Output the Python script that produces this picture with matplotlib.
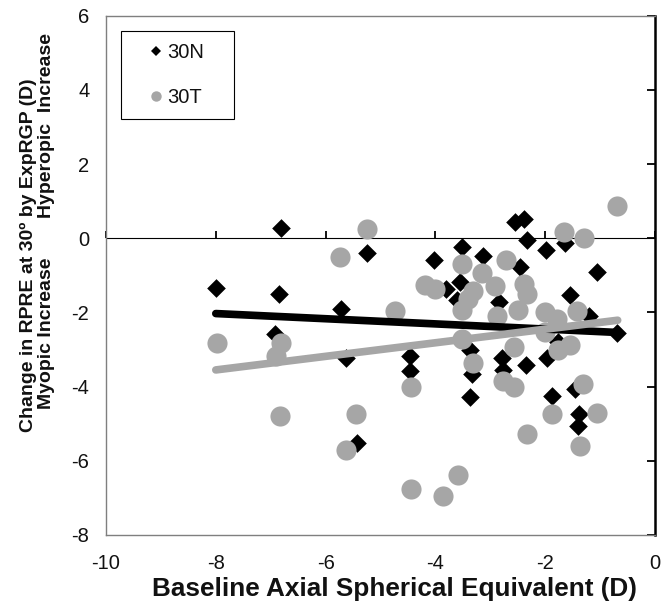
import matplotlib
matplotlib.use("Agg")
import matplotlib.pyplot as plt
from matplotlib.lines import Line2D

plt.rcParams['font.family'] = ['Liberation Sans', 'DejaVu Sans']

# 30N (black diamonds)
n_x = [-8.00, -6.84, -6.82, -6.92, -5.72, -5.63, -5.43, -5.25, -4.02, -4.46, -4.46, -3.81, -3.56,
       -3.61, -3.52, -3.14, -3.37, -3.34, -3.37, -2.85, -2.78, -2.76, -2.55, -2.39, -2.34, -2.46,
       -2.35, -1.99, -1.97, -1.88, -1.76, -1.64, -1.54, -1.46, -1.38, -1.41, -1.21, -1.06, -0.69]
n_y = [-1.35, -1.51, 0.27, -2.57, -1.90, -3.22, -5.52, -0.39, -0.59, -3.18, -3.58, -1.38, -1.18,
       -1.67, -0.23, -0.47, -3.02, -3.65, -4.28, -1.72, -3.22, -3.56, 0.44, 0.51, -0.04, -0.77,
       -3.43, -0.33, -3.22, -4.26, -2.80, -0.12, -1.54, -4.07, -4.73, -5.07, -2.10, -0.91, -2.56]

# 30T (gray circles)
t_x = [-7.98, -6.82, -6.90, -6.83, -5.73, -5.25, -5.45, -5.63, -4.74, -4.19, -4.01, -4.45, -4.45,
       -3.87, -3.58, -3.52, -3.15, -3.31, -3.40, -3.52, -3.52, -3.31, -2.91, -2.72, -2.88, -2.57,
       -2.76, -2.57, -2.38, -2.34, -2.49, -2.34, -2.00, -2.00, -1.78, -1.76, -1.54, -1.42, -1.65,
       -1.29, -0.69, -1.88, -1.31, -1.06, -1.37]
t_y = [-2.82, -2.83, -3.18, -4.80, -0.50, 0.26, -4.73, -5.70, -1.97, -1.27, -1.36, -4.02, -6.75,
       -6.95, -6.37, -0.70, -0.94, -1.42, -1.65, -1.94, -2.72, -3.37, -1.30, -0.59, -2.10, -2.94,
       -3.86, -4.00, -1.22, -1.50, -1.94, -5.29, -1.98, -2.52, -2.17, -3.00, -2.89, -1.96, 0.16,
       0.00, 0.86, -4.73, -3.93, -4.71, -5.59]

# linear trend lines (endpoints)
trend_x = [-8.0, -0.68]
n_trend_y = [-2.03, -2.54]
t_trend_y = [-3.55, -2.21]

x_ticks = [-10, -8, -6, -4, -2, 0]
y_ticks = [-8, -6, -4, -2, 0, 2, 4, 6]

GRAY = '#a6a6a6'
TXT = '#111111'

fig = plt.figure(figsize=(6.61, 6.03), dpi=100)
ax = fig.add_axes([106/661, 1-535/603, 549/661, (535-15.7)/603])

ax.scatter(n_x, n_y, marker='D', s=9.5**2, color='black', linewidths=0, zorder=2)
ax.scatter(t_x, t_y, marker='o', s=14.5**2, color=GRAY, linewidths=0, zorder=3)
ax.plot(trend_x, n_trend_y, color='black', lw=5.5, solid_capstyle='round', zorder=4)
ax.plot(trend_x, t_trend_y, color=GRAY, lw=5.5, solid_capstyle='round', zorder=5)

ax.set_xlim(-10, 0)
ax.set_ylim(-8, 6)
ax.set_xticks(x_ticks)
ax.set_yticks(y_ticks)
ax.set_xticklabels([str(v) for v in x_ticks])
ax.set_yticklabels([str(v) for v in y_ticks])
ax.tick_params(axis='both', length=0, labelsize=14.5, colors=TXT)
ax.tick_params(axis='x', pad=14)
ax.tick_params(axis='y', pad=12)

for side in ['left', 'bottom', 'top']:
    ax.spines[side].set_color('#7f7f7f')
    ax.spines[side].set_linewidth(1.0)
ax.spines['right'].set_visible(False)

# x axis crossing at y=0
sx = ax.secondary_xaxis(8/14)
sx.set_xticks(x_ticks)
sx.set_xticklabels([])
sx.tick_params(direction='out', length=5, width=1.3, color='black')
sx.spines['bottom'].set_color('black')
sx.spines['bottom'].set_linewidth(1.6)

# y axis crossing at x=0 (right)
sy = ax.secondary_yaxis('right')
sy.set_yticks(y_ticks)
sy.set_yticklabels([])
sy.tick_params(direction='in', length=6, width=1.3, color='black')
sy.spines['right'].set_color('black')
sy.spines['right'].set_linewidth(1.8)

# x label
fig.text(394/661, 1-589/603, 'Baseline Axial Spherical Equivalent (D)', ha='center', va='center',
         fontsize=18.8, fontweight='bold', color=TXT)
# y labels
fig.text(28/661, 1-255/603, 'Change in RPRE at 30º by ExpRGP (D)', rotation=90, ha='center',
         va='center', fontsize=14, fontweight='bold', color=TXT)
fig.text(47/661, 1-125/603, 'Hyperopic  Increase', rotation=90, ha='center', va='center',
         fontsize=14, fontweight='bold', color=TXT)
fig.text(47/661, 1-333/603, 'Myopic Increase', rotation=90, ha='center', va='center',
         fontsize=14, fontweight='bold', color=TXT)

handles = [Line2D([], [], ls='none', marker='D', ms=5.5, color='black', mew=0),
           Line2D([], [], ls='none', marker='o', ms=7.5, color=GRAY, mew=0)]
x0 = (120.7 - 106) / 549
w = 113.6 / 549
top = (535 - 31) / (535 - 15.7)
h = 86.7 / (535 - 15.7)
leg = ax.legend(handles, ['30N', '30T'], loc='upper left', mode='expand',
                bbox_to_anchor=(x0, top - h, w, h), borderaxespad=0,
                fancybox=False, framealpha=1, edgecolor='black', fontsize=14.5,
                labelspacing=1.3, handletextpad=-0.62, handlelength=2.34, borderpad=0.6)
leg.get_frame().set_linewidth(0.8)
for t in leg.get_texts():
    t.set_color(TXT)

fig.savefig('out.png', dpi=100)
